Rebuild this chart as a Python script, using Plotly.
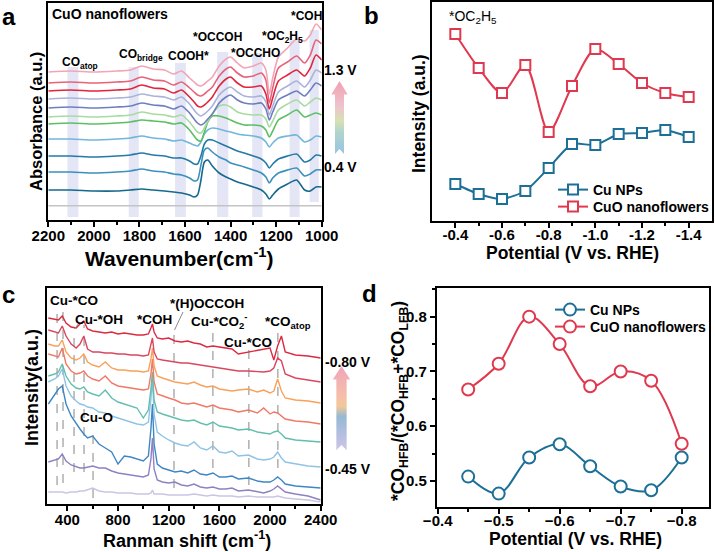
import plotly.graph_objects as go

W, H = 715, 552
FONT = "Liberation Sans, Arial, sans-serif"

# ---------------- data: panel a (in-situ IR, CuO nanoflowers) ----------------
A_WN = [2200, 2100, 2000, 1900, 1840, 1790, 1740, 1690, 1650, 1615,
        1580, 1560, 1545, 1530, 1515, 1500, 1480,
        1450, 1420, 1400, 1370, 1340, 1300, 1265,
        1245, 1230, 1215, 1190, 1150, 1110, 1075, 1050, 1025, 1000]
a_pink = [148, 149, 148, 149, 150, 154, 151, 150, 146, 149,
          142, 138, 135, 134, 136, 139, 143,
          154, 161, 163, 157, 152, 154, 157,
          150, 126, 142, 163, 172, 181, 179, 185, 196, 190]
a_lightred = [137, 138, 137, 138, 139, 143, 140, 139, 135, 138,
              132, 128, 125, 124, 126, 129, 133,
              144, 151, 153, 147, 143, 144, 147,
              140, 117, 132, 152, 158, 164, 157, 165, 180, 176]
a_red = [129, 130, 129, 130, 131, 135, 132, 131, 127, 130,
         123, 118, 114, 113, 115, 118, 123,
         134, 141, 143, 137, 133, 133, 134,
         126, 111, 122, 139, 145, 150, 144, 152, 165, 160]
a_lavender = [121, 122, 121, 122, 123, 126, 124, 123, 120, 123,
              116, 110, 106, 104, 106, 109, 114,
              125, 131, 133, 128, 124, 123, 124,
              118, 105, 114, 128, 134, 139, 133, 140, 150, 147]
a_slate = [112, 113, 112, 113, 114, 117, 115, 114, 111, 114,
           107, 101, 97, 95, 97, 101, 106,
           117, 123, 125, 120, 117, 116, 117,
           111, 100, 108, 120, 125, 129, 124, 130, 137, 134]
a_lightgreen = [103, 104, 103, 104, 105, 108, 106, 105, 103, 105,
                98, 92, 88, 87, 92, 99, 106,
                114, 115, 113, 108, 106, 105, 105,
                101, 93, 99, 110, 116, 120, 114, 118, 122, 120]
a_green = [96, 97, 96, 97, 98, 100, 99, 98, 96, 97,
           90, 84, 80, 79, 88, 98, 104,
           104, 102, 100, 97, 95, 95, 94,
           90, 83, 89, 100, 105, 110, 103, 105, 107, 105]
a_lightblue = [81, 81, 80, 81, 82, 84, 82, 81, 79, 80,
               77, 75, 74, 78, 86, 90, 92,
               91, 89, 88, 86, 85, 84, 82,
               78, 73, 77, 82, 84, 85, 78, 80, 84, 83]
a_teal = [64, 64, 63, 64, 65, 67, 65, 64, 62, 62,
          59, 56, 56, 64, 76, 80, 80,
          77, 74, 72, 69, 67, 64, 61,
          57, 52, 56, 61, 64, 66, 58, 60, 65, 64]
a_teal2 = [48, 48, 47, 48, 49, 51, 49, 48, 46, 45,
           42, 39, 40, 55, 70, 72, 68,
           63, 60, 57, 55, 53, 50, 47,
           43, 37, 42, 47, 50, 52, 44, 46, 50, 50]
a_darkteal = [30, 30, 29, 29, 30, 31, 30, 29, 28, 27,
              25, 23, 25, 40, 58, 60, 54,
              47, 43, 41, 38, 36, 33, 30,
              26, 21, 25, 31, 36, 40, 30, 29, 33, 33]
a_ref_wn = [2200, 1000]
a_ref = [14.3, 14.3]

a_bands_lo = [2116, 1847, 1644, 1459, 1305, 1141, 1053]
a_bands_hi = [2068, 1803, 1596, 1410, 1260, 1097, 1013]
a_bands_top = [153, 153, 157, 168, 167, 180, 190]
a_bands_bot = [3, 3, 3, 3, 3, 3, 18]

# ---------------- data: panel b ----------------
b_pot = [-0.4, -0.5, -0.6, -0.7, -0.8, -0.9, -1.0, -1.1, -1.2, -1.3, -1.4]
b_cu_nps = [37, 27, 22, 30, 53, 77, 76, 87, 88, 91, 84]
b_cuo = [187, 153, 128, 156, 89, 135, 172, 157, 138, 128, 124]
b_ticks = [-0.4, -0.6, -0.8, -1.0, -1.2, -1.4]
b_ticktext = ["-0.4", "-0.6", "-0.8", "-1.0", "-1.2", "-1.4"]
b_minor = [-0.5, -0.7, -0.9, -1.1, -1.3]

# ---------------- data: panel c (Raman) ----------------
C_WN = [250, 300, 330, 360, 390, 430, 470, 500, 530, 560,
        600, 650, 700, 750, 800, 850, 900, 950, 1000, 1040,
        1060, 1072, 1085, 1110, 1150, 1200, 1250, 1300, 1350, 1400,
        1450, 1500, 1550, 1600, 1650, 1700, 1750, 1830, 1900, 1950,
        2000, 2030, 2060, 2090, 2120, 2200, 2300, 2400]
c_red = [186, 185, 184, 188, 181, 177, 176, 180, 183, 175,
         173, 172, 171, 172, 170, 171, 170, 169, 169, 170,
         176, 180, 172, 166, 165, 166, 163, 162, 163, 161,
         160, 157, 158, 157, 156, 155, 150, 152, 153, 155,
         156, 144, 158, 168, 152, 149, 148, 146]
c_crimson = [174, 172, 171, 178, 168, 160, 156, 160, 168, 155,
             152, 152, 151, 151, 150, 150, 149, 149, 148, 149,
             158, 166, 152, 145, 144, 143, 142, 141, 141, 140,
             139, 138, 137, 136, 135, 134, 133, 133, 132, 132,
             133, 136, 146, 143, 130, 126, 124, 122]
c_orange = [160, 158, 158, 164, 152, 146, 144, 146, 150, 142,
            139, 137, 142, 136, 134, 134, 133, 133, 132, 133,
            145, 156, 138, 128, 126, 124, 122, 121, 120, 122,
            119, 117, 118, 115, 114, 113, 114, 115, 112, 114,
            111, 113, 125, 113, 106, 104, 103, 101]
c_salmon = [150, 148, 147, 156, 140, 133, 130, 131, 133, 128,
            125, 123, 128, 121, 118, 117, 116, 115, 114, 115,
            130, 145, 122, 110, 108, 106, 104, 101, 100, 101,
            99, 97, 99, 96, 95, 94, 92, 94, 91, 96,
            90, 92, 91, 88, 85, 83, 82, 80]
c_teal = [128, 130, 132, 140, 128, 120, 116, 115, 117, 112,
          110, 108, 114, 106, 102, 100, 98, 96, 86, 94,
          115, 132, 104, 92, 90, 88, 86, 84, 83, 84,
          81, 79, 82, 78, 77, 76, 74, 75, 72, 71,
          70, 72, 73, 70, 66, 64, 63, 62]
c_lightblue = [122, 125, 128, 135, 118, 108, 103, 100, 99, 97,
               96, 92, 91, 88, 86, 84, 82, 80, 79, 82,
               105, 125, 90, 72, 68, 64, 61, 59, 58, 62,
               56, 54, 58, 52, 51, 53, 48, 49, 45, 44,
               45, 47, 52, 46, 42, 40, 38, 37]
c_blue = [100, 110, 115, 118, 100, 88, 80, 75, 70, 66,
          68, 60, 56, 52, 40, 48, 47, 45, 43, 48,
          75, 100, 60, 40, 36, 34, 32, 33, 31, 34,
          30, 29, 31, 27, 27, 28, 25, 26, 23, 22,
          22, 24, 27, 24, 20, 18, 17, 16]
c_purple = [42, 44, 45, 50, 43, 39, 37, 36, 36, 37,
            38, 36, 36, 33, 31, 30, 29, 28, 27, 29,
            45, 66, 35, 24, 22, 21, 22, 19, 18, 20,
            17, 16, 17, 15, 15, 16, 13, 14, 12, 11,
            13, 15, 18, 15, 12, 10, 8, 4]
c_lavender = [12, 12, 12, 12, 11, 12, 12, 13, 13, 14,
              16, 13, 12, 12, 11, 11, 11, 10, 10, 10,
              11, 14, 10, 10, 10, 9, 9, 9, 9, 10,
              9, 8, 9, 8, 8, 8, 7, 8, 7, 7,
              7, 7, 8, 7, 6, 5, 4, 2]
c_dash_x = [319, 366, 453, 532, 603, 1242, 1549, 1833, 2062]
c_dash_top = [199, 199, 166, 179, 72, 172, 172, 154, 174]
c_dash_bot = [19, 21, 32, 32, 6, 16, 36, 19, 36]

# ---------------- data: panel d ----------------
d_pot = [-0.45, -0.5, -0.55, -0.6, -0.65, -0.7, -0.75, -0.8]
d_cu_nps = [0.508, 0.477, 0.543, 0.567, 0.527, 0.490, 0.483, 0.543]
d_cuo = [0.667, 0.714, 0.800, 0.750, 0.673, 0.700, 0.683, 0.568]

BLUE = "#1c6f96"
RED = "#e0384e"


def PX(x):
    return x / W


def PY(y):
    return 1 - y / H


fig = go.Figure()

# panel a
a_series = [(a_ref_wn, a_ref, "#c4c4c4"),
            (A_WN, a_darkteal, "#14698c"),
            (A_WN, a_teal2, "#3b90be"),
            (A_WN, a_teal, "#2479a8"),
            (A_WN, a_lightblue, "#72b6dc"),
            (A_WN, a_green, "#5cc063"),
            (A_WN, a_lightgreen, "#a8dba2"),
            (A_WN, a_slate, "#6e7fc0"),
            (A_WN, a_lavender, "#abb3da"),
            (A_WN, a_red, "#e2243c"),
            (A_WN, a_lightred, "#e8637a"),
            (A_WN, a_pink, "#f2a5b6")]
for xs, ys, col in a_series:
    fig.add_trace(go.Scatter(x=xs, y=ys, mode="lines", xaxis="x", yaxis="y",
                             line=dict(color=col, width=1.6, shape="spline", smoothing=0.7),
                             showlegend=False, hoverinfo="skip"))

# panel b
fig.add_trace(go.Scatter(x=b_pot, y=b_cu_nps, mode="lines+markers", name="Cu NPs",
                         xaxis="x2", yaxis="y2", legend="legend",
                         line=dict(color=BLUE, width=2, shape="spline", smoothing=0.6),
                         marker=dict(symbol="square", size=10, color="white",
                                     line=dict(color=BLUE, width=2))))
fig.add_trace(go.Scatter(x=b_pot, y=b_cuo, mode="lines+markers", name="CuO nanoflowers",
                         xaxis="x2", yaxis="y2", legend="legend3",
                         line=dict(color=RED, width=2, shape="spline", smoothing=0.8),
                         marker=dict(symbol="square", size=10, color="white",
                                     line=dict(color=RED, width=2))))

# panel c
c_series = [(c_lavender, "#cbc4e3"), (c_purple, "#8e80c2"), (c_blue, "#3f86c4"),
            (c_lightblue, "#8fc3e6"), (c_teal, "#62bfae"), (c_salmon, "#f07866"),
            (c_orange, "#f8a15a"), (c_crimson, "#d9475e"), (c_red, "#dc2a40")]
for ys, col in c_series:
    fig.add_trace(go.Scatter(x=C_WN, y=ys, mode="lines", xaxis="x3", yaxis="y3",
                             line=dict(color=col, width=1.4),
                             showlegend=False, hoverinfo="skip"))

# panel d
fig.add_trace(go.Scatter(x=d_pot, y=d_cu_nps, mode="lines+markers", name="Cu NPs",
                         xaxis="x4", yaxis="y4", legend="legend2",
                         line=dict(color=BLUE, width=2, shape="spline", smoothing=1),
                         marker=dict(symbol="circle", size=12, color="white",
                                     line=dict(color=BLUE, width=2))))
fig.add_trace(go.Scatter(x=d_pot, y=d_cuo, mode="lines+markers", name="CuO nanoflowers",
                         xaxis="x4", yaxis="y4", legend="legend4",
                         line=dict(color=RED, width=2, shape="spline", smoothing=1),
                         marker=dict(symbol="circle", size=12, color="white",
                                     line=dict(color=RED, width=2))))

tickfont = dict(family=FONT, size=15, color="black", weight="bold")
minor_common = dict(ticks="outside", ticklen=3, tickwidth=1.5, tickcolor="black")


def axis(domain, rng, anchor, **kw):
    d = dict(domain=domain, range=rng, anchor=anchor, showline=True, linecolor="black",
             linewidth=1.6, mirror=True, ticks="outside", ticklen=5, tickwidth=1.5,
             tickcolor="black", showgrid=False, zeroline=False, tickfont=tickfont,
             automargin=False)
    d.update(kw)
    return d


noy = dict(ticks="", showticklabels=False)


def leg(x, y):
    return dict(x=PX(x), y=PY(y), xanchor="left", yanchor="middle", bgcolor="rgba(0,0,0,0)",
                borderwidth=0, font=dict(family=FONT, size=14, color="black", weight="bold"),
                tracegroupgap=0)


layout = dict(
    width=W, height=H, margin=dict(l=0, r=0, t=0, b=0, pad=0, autoexpand=False),
    autosize=False,
    paper_bgcolor="white", plot_bgcolor="white",
    font=dict(family=FONT, color="black"),
    xaxis=axis([PX(48.3), PX(321.7)], [2200, 1000], "y", tickmode="linear", tick0=0, dtick=200,
               ticklabelstandoff=-4, minor=dict(dtick=100, tick0=0, **minor_common)),
    yaxis=axis([PY(220), PY(2.7)], [0, 217.3], "x", **noy),
    xaxis2=axis([PX(432), PX(712)], [-0.3, -1.5], "y2", tickmode="array", tickvals=b_ticks,
                ticktext=b_ticktext, ticklabelstandoff=-6,
                minor=dict(tickmode="array", tickvals=b_minor, **minor_common)),
    yaxis2=axis([PY(221), PY(2)], [0, 219], "x2", **noy),
    xaxis3=axis([PX(47.3), PX(320.7)], [242, 2400], "y3", tickmode="linear", tick0=0, dtick=400,
                ticklabelstandoff=-4, minor=dict(dtick=200, tick0=0, **minor_common)),
    yaxis3=axis([PY(504), PY(288.3)], [0, 215.7], "x3", **noy),
    xaxis4=axis([PX(436.7), PX(709)], [-0.3984, -0.8448], "y4", tickmode="linear", tick0=0, dtick=0.1,
                tickformat=".1f", ticklabelstandoff=-6, minor=dict(dtick=0.05, tick0=0, **minor_common)),
    yaxis4=axis([PY(507.3), PY(288.3)], [0.452, 0.8518], "x4", tickmode="linear", tick0=0, dtick=0.1,
                tickformat=".1f", minor=dict(dtick=0.05, tick0=0, **minor_common)),
    legend=leg(553, 190),
    legend3=leg(553, 207),
    legend2=leg(550, 310),
    legend4=leg(550, 327),
)

shapes = []
# panel a bands
for lo, hi, top, bot in zip(a_bands_lo, a_bands_hi, a_bands_top, a_bands_bot):
    shapes.append(dict(type="rect", xref="x", yref="y", x0=lo, x1=hi, y0=bot, y1=top,
                       fillcolor="rgba(205,209,236,0.55)", line=dict(width=0), layer="below"))
# panel c dashed guides
for xv, t, b in zip(c_dash_x, c_dash_top, c_dash_bot):
    shapes.append(dict(type="line", xref="x3", yref="y3", x0=xv, x1=xv, y0=b, y1=t,
                       line=dict(color="#9a9a9a", width=1.2, dash="dash"), layer="below"))
# leader lines in panel c
shapes.append(dict(type="line", xref="paper", yref="paper", x0=PX(183), y0=PY(312), x1=PX(174.5),
                   y1=PY(330), line=dict(color="#8a8a8a", width=1)))
shapes.append(dict(type="line", xref="paper", yref="paper", x0=PX(79), y0=PY(323), x1=PX(74.5),
                   y1=PY(329), line=dict(color="#8a8a8a", width=1)))


def interp(stops, t):
    for (t0, c0), (t1, c1) in zip(stops[:-1], stops[1:]):
        if t0 <= t <= t1:
            f = (t - t0) / (t1 - t0) if t1 > t0 else 0
            c = [round(c0[i] + (c1[i] - c0[i]) * f) for i in range(3)]
            return "rgb(%d,%d,%d)" % tuple(c)
    c = stops[-1][1]
    return "rgb(%d,%d,%d)" % tuple(c)


def grad_arrow(cx, tip, hbase, hhalf, shalf, bottom, stops, notch=5):
    out = []
    n = int(round(bottom - tip))
    for i in range(n):
        y0 = tip + i
        y1 = y0 + 1
        if y1 <= hbase:
            h0 = hhalf * (y0 - tip) / (hbase - tip)
            h1 = hhalf * (y1 - tip) / (hbase - tip)
        else:
            h0 = h1 = shalf
        t = (y0 + 0.5 - tip) / (bottom - tip)
        y1e = min(y1 + 0.6, bottom)
        path = "M %.5f %.5f L %.5f %.5f L %.5f %.5f L %.5f %.5f Z" % (
            PX(cx - h0), PY(y0), PX(cx + h0), PY(y0), PX(cx + h1), PY(y1e), PX(cx - h1), PY(y1e))
        out.append(dict(type="path", path=path, xref="paper", yref="paper",
                        fillcolor=interp(stops, t), line=dict(width=0), layer="above"))
    path = "M %.5f %.5f L %.5f %.5f L %.5f %.5f Z" % (
        PX(cx - shalf - 0.5), PY(bottom + 0.5), PX(cx), PY(bottom - notch), PX(cx + shalf + 0.5), PY(bottom + 0.5))
    out.append(dict(type="path", path=path, xref="paper", yref="paper", fillcolor="white",
                    line=dict(width=0), layer="above"))
    return out


stops_a = [(0.0, (242, 160, 178)), (0.35, (238, 196, 204)), (0.55, (214, 226, 178)),
           (0.7, (176, 212, 204)), (1.0, (150, 196, 228))]
stops_c = [(0.0, (240, 165, 185)), (0.35, (245, 190, 170)), (0.48, (242, 200, 152)),
           (0.6, (150, 185, 212)), (1.0, (206, 196, 232))]
shapes += grad_arrow(339.5, 81, 94, 8, 4.5, 154, stops_a)
shapes += grad_arrow(341.5, 366, 379, 8.5, 5, 450, stops_c)
layout["shapes"] = shapes

ann = []


def A(text, x, y, size=12, bold=True, xanchor="center", yanchor="middle", angle=0):
    ann.append(dict(text=text, x=PX(x), y=PY(y), xref="paper", yref="paper", showarrow=False,
                    xanchor=xanchor, yanchor=yanchor, textangle=angle,
                    font=dict(family=FONT, size=size, color="black", weight="bold" if bold else "normal")))


# panel letters
A("a", 9, 16, 24)
A("b", 371, 15, 24)
A("c", 8, 294, 24)
A("d", 369, 293, 24)

# panel a labels
A("CuO nanoflowers", 50, 13.5, 14, xanchor="left")
A("CO<sub>atop</sub>", 80, 63, 12)
A("CO<sub>bridge</sub>", 141, 55, 12)
A("COOH*", 188, 56, 12)
A("*OCCOH", 217, 37, 12)
A("*OCCHO", 255, 53, 12)
A("*OC<sub>2</sub>H<sub>5</sub>", 282, 37, 12)
A("*COH", 306, 16, 12)
A("1.3 V", 340, 70, 14)
A("0.4 V", 340, 167, 14)
A("Wavenumber(cm<sup>-1</sup>)", 179, 257, 21)
A("Absorbance (a.u.)", 36, 122, 16.5, angle=-90)

# panel b labels
A("*OC<sub>2</sub>H<sub>5</sub>", 447, 17, 14, bold=False, xanchor="left")
A("Potential (V vs. RHE)", 572, 252.5, 17.5)
A("Intensity (a.u.)", 419, 114, 17.5, angle=-90)

# panel c labels
A("Cu-*CO", 74, 300, 13.5)
A("Cu-*OH", 99, 319, 13.5)
A("*COH", 154, 319, 13.5)
A("*(H)OCCOH", 207, 303, 13.5)
A("Cu-*CO<sub>2</sub><sup>-</sup>", 219, 321, 13.5)
A("Cu-*CO", 248, 342, 13.5)
A("*CO<sub>atop</sub>", 288, 322, 13.5)
A("Cu-O", 96, 417, 13.5)
A("-0.80 V", 323, 362, 14, xanchor="left")
A("-0.45 V", 323, 469, 14, xanchor="left")
A("Ranman shift (cm<sup>-1</sup>)", 187, 539.5, 18)
A("Intensity(a.u.)", 32, 388, 18, angle=-90)

# panel d labels
A("Potential (V vs. RHE)", 575, 538.5, 17.5)
A("*CO<sub>HFB</sub>/(*CO<sub>HFB</sub>+*CO<sub>LFB</sub>)", 399, 401, 17.5, angle=-90)

layout["annotations"] = ann
fig.update_layout(**layout)
fig.write_html("out.html", config={"responsive": False, "displayModeBar": False},
               post_script="document.body.style.margin='0px';document.body.style.overflow='hidden';")
